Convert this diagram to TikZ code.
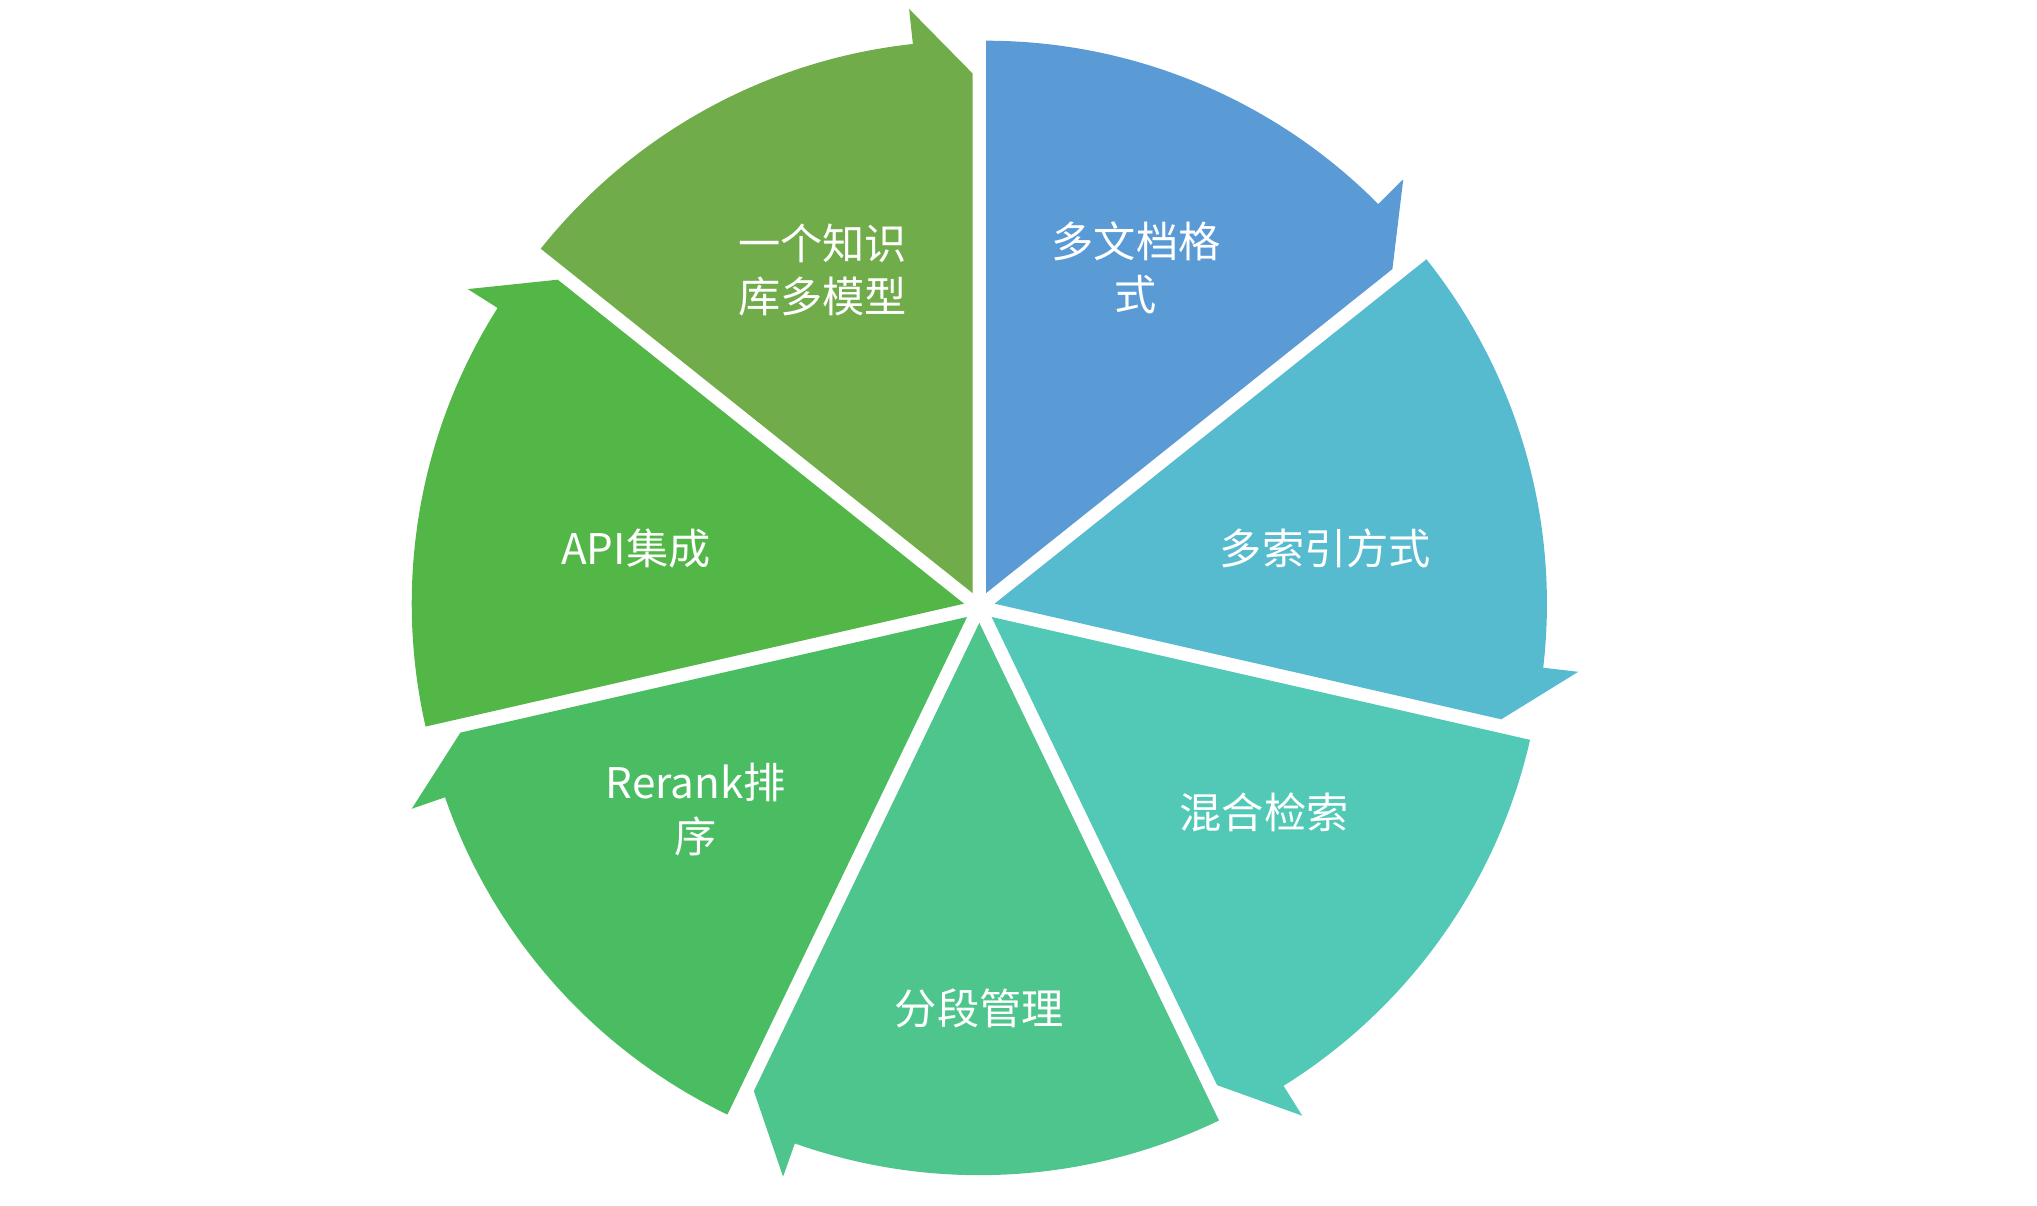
\documentclass[tikz,border=0pt]{standalone}
\usepackage{fontspec}
\usetikzlibrary{calc}
\setmainfont{Noto Sans CJK SC}
\definecolor{c1}{HTML}{5B9BD5}
\definecolor{c2}{HTML}{56BBCF}
\definecolor{c3}{HTML}{52C9B6}
\definecolor{c4}{HTML}{4FC58E}
\definecolor{c5}{HTML}{4ABD63}
\definecolor{c6}{HTML}{53B748}
\definecolor{c7}{HTML}{71AC4B}
\tikzset{lbl/.style={text=white,font=\fontsize{46}{58}\selectfont,align=center,inner sep=0pt}}
\begin{document}
\begin{tikzpicture}[x=0.05cm,y=0.05cm]
\useasboundingbox (0,0) rectangle (1560,923);
\coordinate (c) at (750,458);
\foreach \a/\col in {90/c1,38.571/c2,-12.857/c3,-64.286/c4,-115.714/c5,-167.143/c6,141.429/c7}{
  \pgfmathsetmacro\b{\a-51.4286}
  \pgfmathsetmacro\m{\a-25.714}
  \pgfmathsetmacro\e{\b+6.2}
  \fill[\col,shift={($(c)+(\m:12)$)}] (0,0) -- (\a:423) arc[start angle=\a,end angle=\e,radius=423] -- (\e:450) -- (\b:398) -- cycle;
}
\node[lbl] (n1) at (870,718) {多文档格\\式};
\node[lbl] (n2) at (1015,503) {多索引方式};
\node[lbl] (n3) at (968,301) {混合检索};
\node[lbl] (n4) at (750,151) {分段管理};
\node[lbl] (n5) at (533,303) {Rerank排\\序};
\node[lbl] (n6) at (487,503) {API集成};
\node[lbl] (n7) at (630,716) {一个知识\\库多模型};
\end{tikzpicture}
\end{document}
